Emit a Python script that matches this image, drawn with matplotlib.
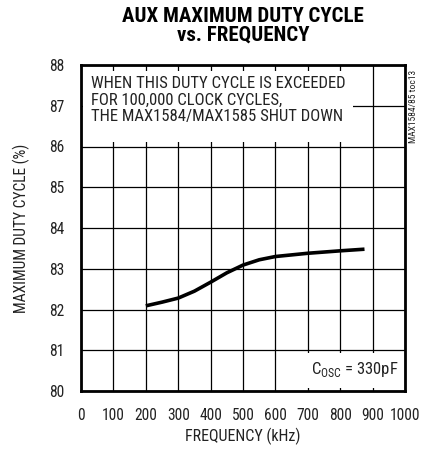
import matplotlib
matplotlib.use("Agg")
import matplotlib.pyplot as plt
from matplotlib.patches import Rectangle

plt.rcParams['font.family'] = ['Roboto Condensed', 'DejaVu Sans']
plt.rcParams['mathtext.fontset'] = 'custom'
plt.rcParams['mathtext.rm'] = 'Roboto Condensed'

freq_khz = [200, 250, 300, 350, 400, 450, 500, 550, 600, 650, 700, 750, 800, 875]
duty_pct = [82.09, 82.18, 82.28, 82.45, 82.67, 82.90, 83.09, 83.22, 83.30, 83.34, 83.38, 83.41, 83.44, 83.48]

x_ticks = [0, 100, 200, 300, 400, 500, 600, 700, 800, 900, 1000]
y_ticks = [80, 81, 82, 83, 84, 85, 86, 87, 88]

title = "AUX MAXIMUM DUTY CYCLE\nvs. FREQUENCY"
xlabel = "FREQUENCY (kHz)"
ylabel = "MAXIMUM DUTY CYCLE (%)"
note = "WHEN THIS DUTY CYCLE IS EXCEEDED\nFOR 100,000 CLOCK CYCLES,\nTHE MAX1584/MAX1585 SHUT DOWN"
cond = r"C$_{\mathregular{OSC}}$ = 330pF"
side = "MAX1584/85 toc13"

TXT = '#222222'

fig = plt.figure(figsize=(4.24, 4.54), dpi=100)
ax = fig.add_axes([81/424, 1-391/454, 324/424, 326/454])

ax.set_xlim(0, 1000)
ax.set_ylim(80, 88)
ax.set_xticks(x_ticks)
ax.set_yticks(y_ticks)
ax.set_xticklabels([str(t) for t in x_ticks], fontsize=11.2, color=TXT)
ax.set_yticklabels([str(t) for t in y_ticks], fontsize=11.2, color=TXT)
ax.tick_params(axis='x', length=0, pad=12)
ax.tick_params(axis='y', length=0, pad=12)
ax.grid(True, color='black', linewidth=0.9, zorder=0)
ax.set_axisbelow(True)
for s in ax.spines.values():
    s.set_linewidth(2.0)

# white boxes behind annotations
ax.add_patch(Rectangle((6, 86.12), 834, 1.74, facecolor='white', edgecolor='none', zorder=1.5))
ax.add_patch(Rectangle((685, 80.08), 312, 0.85, facecolor='white', edgecolor='none', zorder=1.5))

ax.plot(freq_khz, duty_pct, color='black', linewidth=2.6, solid_capstyle='butt', zorder=3)

ax.text(31, 87.72, note, fontsize=12, va='top', ha='left', linespacing=1.12, color=TXT, zorder=4)
ax.text(980, 80.52, cond, fontsize=12, va='center', ha='right', color=TXT, zorder=4)

ax.set_xlabel(xlabel, fontsize=11.5, labelpad=4, color=TXT)
ax.set_ylabel(ylabel, fontsize=11.2, labelpad=14, color=TXT)
fig.text(243/424, 1-26/454, title, fontsize=15, fontweight='heavy', ha='center', va='center', linespacing=1.0)
fig.text(413/424, 1-106/454, side, fontsize=6.8, rotation=90, ha='center', va='center', color=TXT)

fig.savefig("out.png", dpi=100)
